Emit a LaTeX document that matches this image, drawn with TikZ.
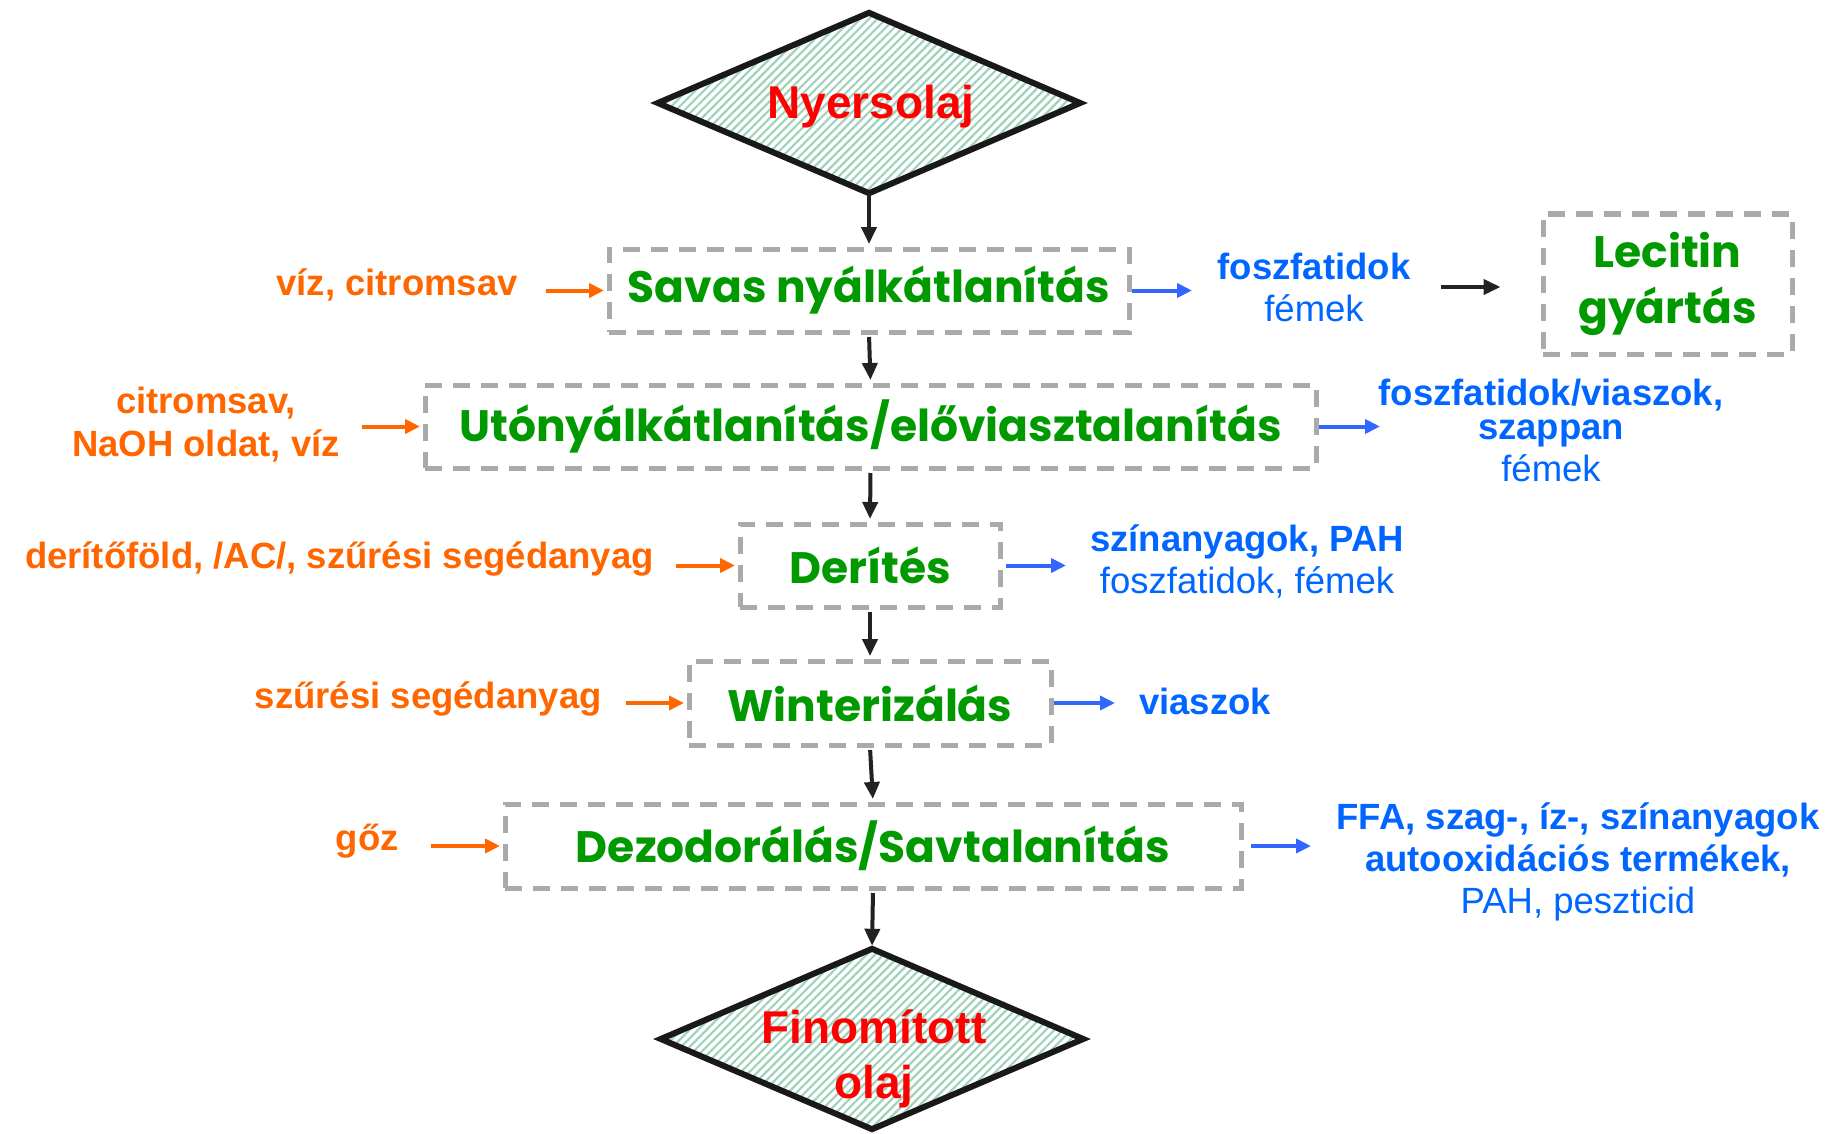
\documentclass[tikz,border=0pt]{standalone}
\usepackage{fontspec}
\setmainfont{Liberation Sans}
\newfontfamily\comic{Poppins}
\usetikzlibrary{arrows.meta,patterns.meta}
\definecolor{myorange}{RGB}{255,102,0}
\definecolor{myblue}{RGB}{0,102,255}
\definecolor{arrblue}{RGB}{51,102,255}
\definecolor{mygreen}{RGB}{0,153,0}
\definecolor{myred}{RGB}{255,0,0}
\definecolor{dashgray}{RGB}{170,170,170}
\definecolor{arrblack}{RGB}{34,34,34}
\definecolor{hatch}{RGB}{160,210,188}
\begin{document}
\begin{tikzpicture}[x=1pt,y=-1pt,
  proc/.style={draw=dashgray, line width=5pt, dash pattern=on 17pt off 11pt,
    inner sep=0pt, text=mygreen, align=center,
    font={\comic\bfseries\fontsize{44}{56}\selectfont}},
  diaframe/.style={inner sep=0pt, minimum width=422pt, minimum height=180pt},
  diafill/.style={draw=black!90, line width=6pt, line join=miter,
    pattern={Lines[angle=45,distance=6pt,line width=2.2pt]}, pattern color=hatch},
  redtxt/.style={inner sep=0pt, text=myred, align=center,
    font={\bfseries\fontsize{46}{55}\selectfont}},
  lab/.style={inner sep=0pt, text=myorange, align=center,
    font={\bfseries\fontsize{36.5}{43}\selectfont}},
  outl/.style={inner sep=0pt, text=myblue, align=center,
    font={\fontsize{36.5}{42}\selectfont}},
  karr/.style={draw=arrblack, line width=4pt, -{Triangle[length=17pt,width=15pt]}},
  oarr/.style={draw=myorange, line width=4pt, -{Triangle[length=15pt,width=14pt]}, shorten >=2.5pt},
  barr/.style={draw=arrblue, line width=4pt, -{Triangle[length=15pt,width=14pt]}}
]
\useasboundingbox (0,0) rectangle (1841,1134);

% diamonds
\node[diaframe] (nyer) at (869,103) {};
\draw[diafill] (nyer.north) -- (nyer.east) -- (nyer.south) -- (nyer.west) -- cycle;
\node[redtxt] (nyert) at (871,107) {Nyersolaj};

\node[diaframe] (fin) at (872,1039) {};
\draw[diafill] (fin.north) -- (fin.east) -- (fin.south) -- (fin.west) -- cycle;
\node[redtxt] (fint) at (874,1059) {Finomított\\olaj};

% process boxes
\node[proc, minimum width=520pt, minimum height=83pt] (sav) at (869,290.5) {Savas nyálkátlanítás};
\node[proc, minimum width=891pt, minimum height=83pt] (uto) at (870.5,426.5) {Utónyálkátlanítás/előviasztalanítás};
\node[proc, minimum width=260pt, minimum height=83pt] (der) at (870,565.5) {Derítés};
\node[proc, minimum width=362pt, minimum height=84pt] (win) at (870,703) {Winterizálás};
\node[proc, minimum width=736pt, minimum height=84pt] (dez) at (873,846) {Dezodorálás/Savtalanítás};
\node[proc, minimum width=249pt, minimum height=140pt] (lec) at (1667.5,284) {Lecitin\\gyártás};

% main flow
\draw[karr, shorten >=2.5pt] (nyer.south) -- (sav.north);
\draw[karr, shorten <=2.5pt, shorten >=2.5pt] (sav.south) -- (uto.north);
\draw[karr, shorten <=2.5pt, shorten >=2.5pt] (uto.south) -- (der.north);
\draw[karr, shorten <=2.5pt, shorten >=2.5pt] (der.south) -- (win.north);
\draw[karr, shorten <=2.5pt, shorten >=2.5pt] (win.south) -- (dez.north);
\draw[karr, shorten <=2.5pt, shorten >=3pt] (dez.south) -- (fin.north);

% inputs (orange)
\node[lab, anchor=east] (l1) at (518,285) {víz, citromsav};
\node[lab, anchor=east] (l2) at (340,425) {citromsav,\\NaOH oldat, víz};
\node[lab, anchor=east] (l3) at (654,559) {derítőföld, /AC/, szűrési segédanyag};
\node[lab, anchor=east] (l4) at (602,699) {szűrési segédanyag};
\node[lab, anchor=east] (l5) at (399,841) {gőz};

\draw[oarr, shorten <=28pt] (l1.east |- sav.west) -- (sav.west);
\draw[oarr, shorten <=22pt] (l2.east |- uto.west) -- (uto.west);
\draw[oarr, shorten <=22pt] (l3.east |- der.west) -- (der.west);
\draw[oarr, shorten <=24pt] (l4.east |- win.west) -- (win.west);
\draw[oarr, shorten <=32pt] (l5.east |- dez.west) -- (dez.west);

% outputs (blue)
\coordinate (e1) at (1192,290.5);
\coordinate (e2) at (1380,426.5);
\coordinate (e3) at (1066,565.5);
\coordinate (e4) at (1115,703);
\coordinate (e5) at (1311,846);

\draw[barr] (sav.east) -- (e1);
\draw[barr] (uto.east) -- (e2);
\draw[barr, shorten <=3pt] (der.east) -- (e3);
\draw[barr] (win.east) -- (e4);
\draw[barr, shorten <=7pt] (dez.east) -- (e5);

\node[outl] (r1) at (1314,287) {\textbf{foszfatidok}\\fémek};
\node[outl] (r2) at (1551,430) {\textbf{foszfatidok/viaszok,}\\[-8pt]\textbf{szappan}\\fémek};
\node[outl] (r3) at (1247,561) {\textbf{színanyagok, PAH}\\foszfatidok, fémek};
\node[outl, anchor=west] (r4) at (1139,701) {\textbf{viaszok}};
\node[outl] (r5) at (1578,862) {\textbf{FFA, szag-, íz-, színanyagok}\\\textbf{autooxidációs termékek,}\\PAH, peszticid};

\draw[karr, shorten <=30pt, shorten >=40pt] (r1.east) -- (r1.east -| lec.west);
\end{tikzpicture}
\end{document}
